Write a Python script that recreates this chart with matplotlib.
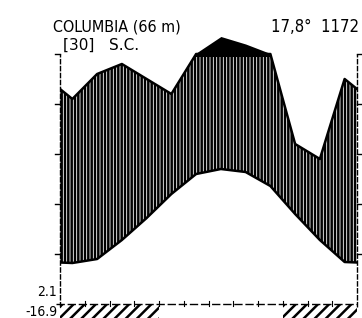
import numpy as np
import matplotlib.pyplot as plt
from matplotlib import font_manager

# Walter-Lieth climate diagram, Columbia S.C.
months = ['Jan', 'Feb', 'Mar', 'Apr', 'May', 'Jun', 'Jul', 'Aug', 'Sep', 'Oct', 'Nov', 'Dec']
temp = [8.2, 9.0, 12.8, 17.2, 22.0, 26.0, 27.0, 26.4, 23.6, 18.0, 12.8, 8.4]   # deg C
precip = [82, 92, 96, 90, 84, 104, 170, 140, 102, 64, 58, 90]               # mm
frost_months = [1, 1, 1, 1, 0, 0, 0, 0, 0, 1, 1, 1]  # absolute min below 0

station = 'COLUMBIA (66 m)'
years_state = '[30]   S.C.'
annual = '17,8°  1172'
min_cold = '2.1'
abs_min = '-16.9'

plt.rcParams['hatch.linewidth'] = 1.8

# condensed sans font if one is installed
fname = None
for f in font_manager.fontManager.ttflist:
    base = f.fname.rsplit('/', 1)[-1]
    if base in ('LiberationSansNarrow-Regular.ttf', 'DejaVuSansCondensed.ttf'):
        fname = f.fname
        break


def fp(size):
    if fname:
        return font_manager.FontProperties(fname=fname, size=size)
    return font_manager.FontProperties(family='DejaVu Sans', size=size * 0.9)


def scale_p(p):
    # 10 deg = 20 mm, above 100 mm reduced to 1/10
    p = np.asarray(p, dtype=float)
    return np.where(p <= 100, p / 2, 50 + (p - 100) / 20)


# month centres plus edges (wrap Dec/Jan)
xc = np.arange(12) + 0.5
t_edge = (temp[0] + temp[-1]) / 2
p_edge = (precip[0] + precip[-1]) / 2
x = np.concatenate([[0], xc, [12]])
t = np.concatenate([[t_edge], temp, [t_edge]])
p = scale_p(np.concatenate([[p_edge], precip, [p_edge]]))

xf = np.linspace(0, 12, 1201)
tf = np.interp(xf, x, t)
pf = np.interp(xf, x, p)

fig = plt.figure(figsize=(3.62, 3.18), dpi=100)
ax = fig.add_axes([60 / 362, 0, 297 / 362, 1])
ax.set_xlim(0, 12)
ax.set_ylim(-2.8, 60.8)
ax.axis('off')

# humid period (vertical hatching)
ax.fill_between(xf, tf, np.minimum(pf, 50), where=pf > tf, facecolor='none',
                edgecolor='black', hatch='|||||', linewidth=0)
# > 100 mm in black
ax.fill_between(xf, 49.5, pf, where=pf > 50, interpolate=True, color='black', linewidth=0)

ax.plot(x, t, color='black', lw=1.8)
ax.plot(x, np.minimum(p, 50), color='black', lw=1.8)

# axes
ax.plot([0, 0], [-0.5, 50], color='black', lw=1, ls=(0, (4, 1)), clip_on=False)
ax.plot([12, 12], [-0.5, 50], color='black', lw=1, ls=(0, (4, 1)), clip_on=False)
ax.plot([-0.15, 12], [0, 0], color='black', lw=1, ls=(0, (6, 2)), clip_on=False)
for v in [10, 20, 30, 40, 50]:
    ax.plot([-0.2, 0], [v, v], color='black', lw=1, clip_on=False)
    ax.plot([12, 12.2], [v, v], color='black', lw=1, clip_on=False)
for m in range(1, 12):
    ax.plot([m, m], [-0.3, 0.6], color='black', lw=0.8)

# frost months
for i, f in enumerate(frost_months):
    if f:
        ax.bar(i, -2.8, width=1, align='edge', bottom=0, facecolor='none',
               edgecolor='black', hatch='///', linewidth=0)

fig.text(53 / 362, 1 - 32 / 318, station, fontproperties=fp(11.5), va='baseline', ha='left')
fig.text(63 / 362, 1 - 50 / 318, years_state, family='DejaVu Sans', fontsize=11,
         va='baseline', ha='left')
fig.text(359 / 362, 1 - 32 / 318, annual, fontproperties=fp(12), va='baseline', ha='right')
fig.text(57 / 362, 1 - 296 / 318, min_cold, fontproperties=fp(10), va='baseline', ha='right')
fig.text(58 / 362, 1 - 305 / 318, abs_min, fontproperties=fp(10), va='top', ha='right')

fig.savefig('out.png', dpi=100)
